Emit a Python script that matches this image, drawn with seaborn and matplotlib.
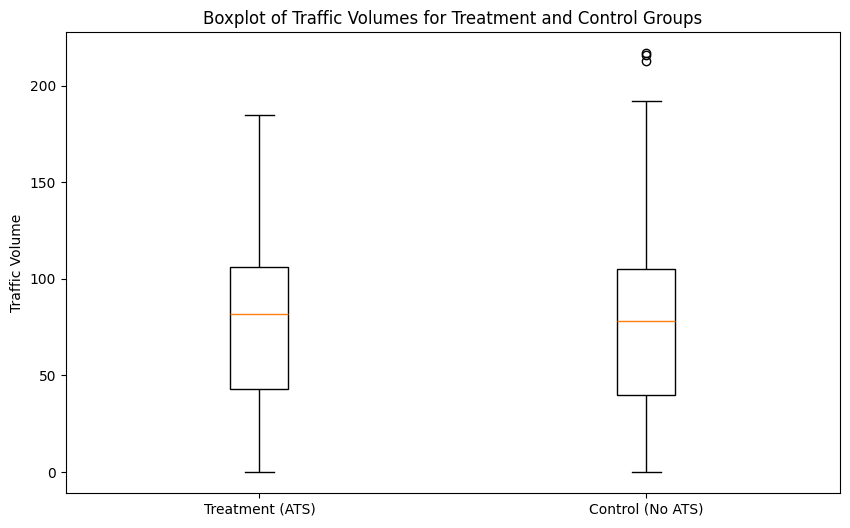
import pandas as pd
import matplotlib
matplotlib.use("Agg")
import matplotlib.pyplot as plt
import seaborn as sns

# Sample points placed so the quartiles, whiskers and outliers match the chart
groups = ["Treatment (ATS)", "Control (No ATS)"]
treatment_volumes = [0, 43, 81.6, 106, 185]
control_volumes = [0, 40, 40, 40, 40, 78, 78, 78, 78, 105, 105, 105, 105, 192,
                   213, 216, 217]

df = pd.DataFrame({
    "group": [groups[0]] * len(treatment_volumes) + [groups[1]] * len(control_volumes),
    "volume": treatment_volumes + control_volumes,
})

fig = plt.figure(figsize=(8.5, 5.28), dpi=100)
ax = fig.add_axes([0.0776, 0.0663, 0.9106, 0.8731])

sns.boxplot(data=df, x="group", y="volume", ax=ax,
            color="white", linecolor="black", linewidth=1, width=0.15,
            medianprops={"color": "#ff7f0e"},
            flierprops={"marker": "o", "markerfacecolor": "none",
                        "markeredgecolor": "black", "markersize": 6})

ax.set_xlim(-0.5, 1.5)
ax.set_ylim(-10.85, 227.85)
ax.set_xlabel("")
ax.set_ylabel("Traffic Volume")
ax.set_title("Boxplot of Traffic Volumes for Treatment and Control Groups")

fig.savefig("out.png", dpi=100)
